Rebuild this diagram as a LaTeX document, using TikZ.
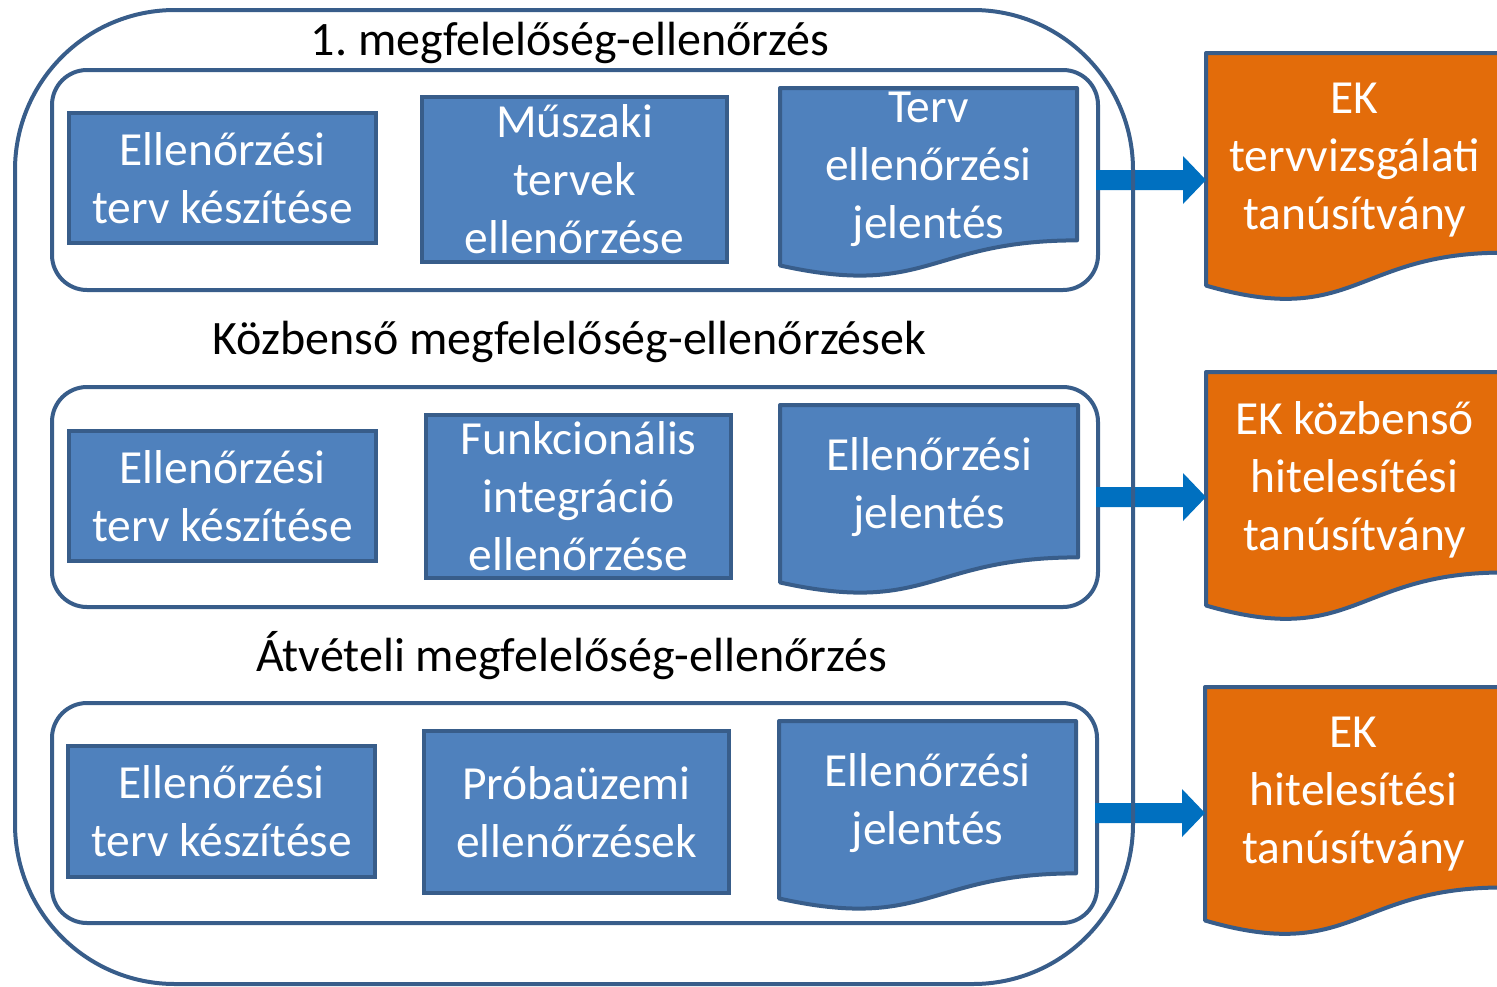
\documentclass[tikz,border=0pt]{standalone}
\usepackage{fontspec}
\setmainfont{Carlito}
\frenchspacing
\usetikzlibrary{calc}
\definecolor{bfill}{HTML}{4F81BD}
\definecolor{bline}{HTML}{385D8A}
\definecolor{ofill}{HTML}{E36C0A}
\definecolor{arr}{HTML}{0070C0}
\tikzset{
  every node/.style={inner sep=0pt, outer sep=0pt},
  txt/.style={text=white, align=center, font=\fontsize{47.5}{58}\selectfont},
  ttl/.style={text=black, font=\fontsize{48}{56}\selectfont},
  procbox/.style={draw=bline, fill=bfill, line width=4pt},
  rowbox/.style={draw=bline, line width=4pt, rounded corners=35pt},
  docpath/.style={draw=bline, line width=4pt, line join=round},
  blockarrow/.style={fill=arr}
}
\newcommand{\mkdoc}[7]{%
  \node[minimum width=#4pt, minimum height=#5pt] (#1) at (#2,#3) {};
  \path[docpath, fill=#6] (#1.north west) -- (#1.north east)
    -- ($(#1.north east)!0.802!(#1.south east)$)
    .. controls ($(#1.north)!0.802!(#1.south)$) and ($(#1.north)!1.1075!(#1.south)$)
    .. ($(#1.north west)!0.934!(#1.south west)$) -- cycle;
  \node[txt] (#1t) at ($(#1.north)!0.43!(#1.south)$) {#7};
}
\newcommand{\mkarrow}[2]{%
  \coordinate (#1s) at ($(#1.east)+(-2,0)$);
  \coordinate (#1e) at (#2.west |- #1.east);
  \fill[blockarrow] ($(#1s)+(0,-10)$) -- ($(#1e)+(-23,-10)$) -- ($(#1e)+(-23,-24)$)
    -- (#1e) -- ($(#1e)+(-23,24)$) -- ($(#1e)+(-23,10)$) -- ($(#1s)+(0,10)$) -- cycle;
}
\begin{document}
\begin{tikzpicture}[x=1pt,y=-1pt]
\useasboundingbox (0,0) rectangle (1497,986);

% titles
\node[ttl] (t1) at (570,43) {1. megfelelőség-ellenőrzés};
\node[ttl] (t2) at (569.5,342) {Közbenső megfelelőség-ellenőrzések};
\node[ttl] (t3) at (571.5,656) {Átvételi megfelelőség-ellenőrzés};

% row frames
\node[rowbox, minimum width=1046pt, minimum height=220pt] (row1) at (575,180) {};
\node[rowbox, minimum width=1046pt, minimum height=220pt] (row2) at (575,497) {};
\node[rowbox, minimum width=1045pt, minimum height=220pt] (row3) at (574.5,813) {};

% row 1
\node[procbox, txt, minimum width=307pt, minimum height=130pt] (r1a) at (222.5,178) {Ellenőrzési\\terv készítése};
\node[procbox, txt, minimum width=305pt, minimum height=165pt] (r1b) at (574.5,179.5) {Műszaki\\tervek\\ellenőrzése};
\mkdoc{r1c}{928.5}{183}{297}{190}{bfill}{Terv\\ellenőrzési\\jelentés}

% row 2
\node[procbox, txt, minimum width=307pt, minimum height=130pt] (r2a) at (222.5,496) {Ellenőrzési\\terv készítése};
\node[procbox, txt, minimum width=305pt, minimum height=163pt] (r2b) at (578.5,496.5) {Funkcionális\\integráció\\ellenőrzése};
\mkdoc{r2c}{929}{500}{298}{190}{bfill}{Ellenőrzési\\jelentés}

% row 3
\node[procbox, txt, minimum width=307pt, minimum height=131pt] (r3a) at (221.5,811.5) {Ellenőrzési\\terv készítése};
\node[procbox, txt, minimum width=305pt, minimum height=162pt] (r3b) at (576.5,812) {Próbaüzemi\\ellenőrzések};
\mkdoc{r3c}{927.5}{816}{297}{190}{bfill}{Ellenőrzési\\jelentés}

% orange certificates
\mkdoc{o1}{1354.5}{177.5}{297}{249}{ofill}{EK\\tervvizsgálati\\tanúsítvány}
\mkdoc{o2}{1354.5}{497}{297}{250}{ofill}{EK közbenső\\hitelesítési\\tanúsítvány}
\mkdoc{o3}{1353.5}{812}{297}{250}{ofill}{EK\\hitelesítési\\tanúsítvány}

% arrows
\mkarrow{row1}{o1}
\mkarrow{row2}{o2}
\mkarrow{row3}{o3}

% outer frame
\node[draw=bline, line width=4pt, rounded corners=160pt, minimum width=1118pt, minimum height=974pt] (outer) at (574,497) {};
\end{tikzpicture}
\end{document}
